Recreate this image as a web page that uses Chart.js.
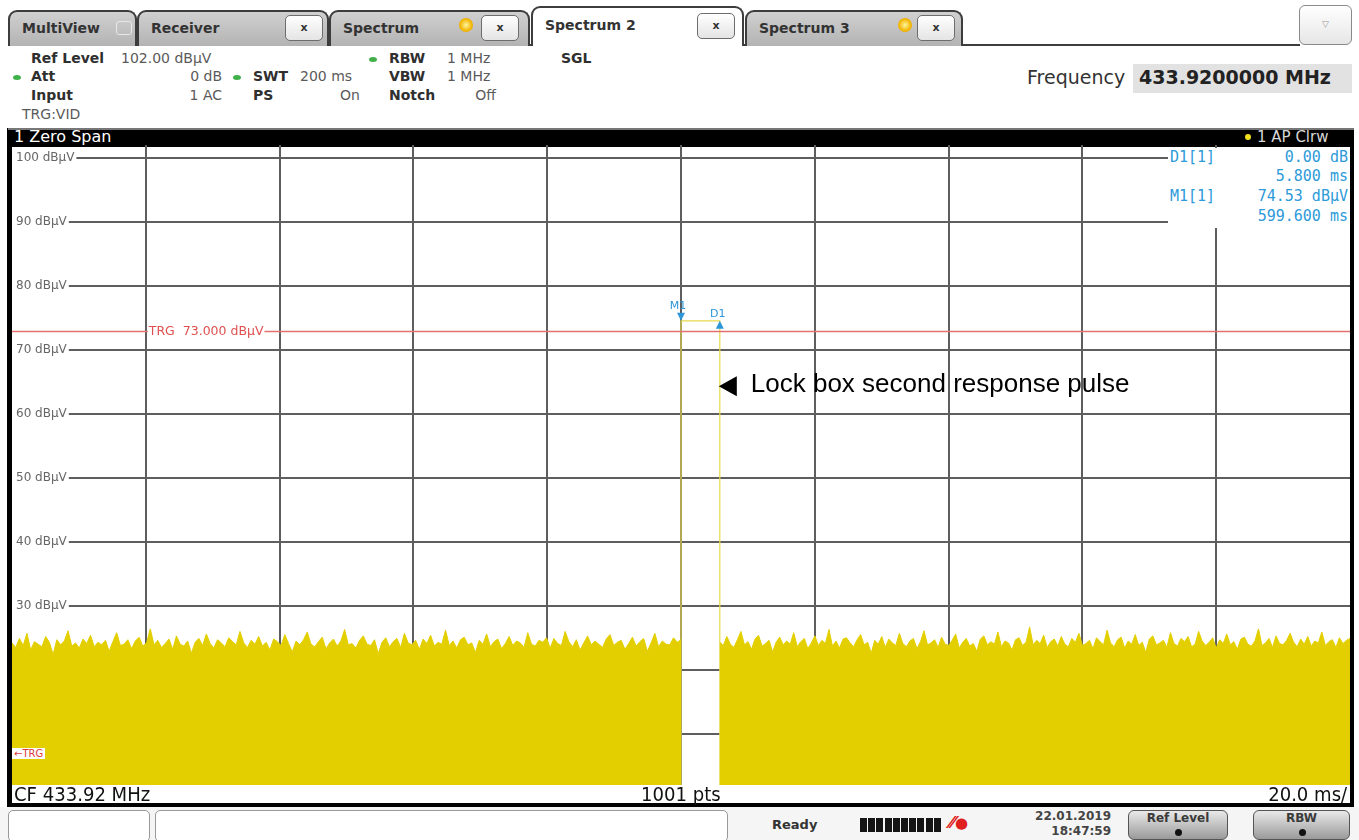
<!DOCTYPE html>
<html>
<head>
<meta charset="utf-8">
<script src="https://cdn.jsdelivr.net/npm/chart.js@4.4.0/dist/chart.umd.min.js"></script>
<style>
  body { margin: 0; width: 1359px; height: 840px; background: #fff; position: relative; overflow: hidden;
         font-family: "DejaVu Sans", Verdana, sans-serif; }
  .a { position: absolute; white-space: nowrap; }
  .tab { position: absolute; top: 10px; height: 36px; border: 2px solid #3d3d3d; border-bottom: none;
         border-radius: 9px 9px 0 0; background: linear-gradient(#d0d0d0, #b3b3b3); box-sizing: border-box; }
  .tab.on { top: 6px; height: 40px; background: #fff; }
  .tab .t { position: absolute; left: 12px; top: 8px; font-weight: bold; font-size: 14px; color: #333; }
  .tab.on .t { top: 9px; }
  .xb { position: absolute; top: 3px; width: 38px; height: 26px; border: 1px solid #6d6d6d; border-radius: 5px;
        background: linear-gradient(#fff, #e4e4e4); font-size: 11px; font-weight: bold; text-align: center;
        line-height: 24px; color: #333; box-sizing: border-box; }
  .star { position: absolute; top: 6px; width: 14px; height: 14px; border-radius: 50%;
          background: radial-gradient(#fff6a0, #f2b500 60%, #e0a000); }
  .lbl { font-weight: bold; font-size: 14px; color: #2f2f2f; }
  .val { font-size: 14px; color: #5a5a5a; }
  .dot { position: absolute; width: 8px; height: 5px; border-radius: 50%; background: #3fb04a; }
  .mk { position: absolute; font-family: "DejaVu Sans Mono", "Liberation Mono", monospace; font-size: 15px; color: #2d9ad9; }
  .ft { position: absolute; top: 783px; font-size: 19px; color: #111; transform: scaleX(0.95); white-space: nowrap; }
  .btn { position: absolute; top: 810px; height: 30px; border: 1px solid #555; border-radius: 6px;
         background: linear-gradient(#e9e9e9, #9a9a9a); box-sizing: border-box; text-align: center;
         font-weight: bold; font-size: 12px; color: #3a3a3a; }
  .btn i { position: absolute; left: 50%; top: 18px; width: 7px; height: 7px; margin-left: -3px; border-radius: 50%; background: #111; }
</style>
</head>
<body>
<!-- tab row -->
<div class="a" style="left:8px;top:44px;width:1292px;height:2px;background:#3d3d3d"></div>
<div class="tab" style="left:8px;width:129px"><span class="t">MultiView</span>
  <span class="a" style="left:106px;top:9px;width:14px;height:12px;border:1px solid #e8e8e8;border-radius:3px;"></span></div>
<div class="tab" style="left:137px;width:192px"><span class="t">Receiver</span><div class="xb" style="left:146px">x</div></div>
<div class="tab" style="left:329px;width:201px"><span class="t">Spectrum</span><div class="star" style="left:128px"></div><div class="xb" style="left:150px">x</div></div>
<div class="tab on" style="left:531px;width:213px"><span class="t">Spectrum 2</span><div class="xb" style="left:164px;top:5px">x</div></div>
<div class="tab" style="left:745px;width:218px"><span class="t">Spectrum 3</span><div class="star" style="left:151px"></div><div class="xb" style="left:170px">x</div></div>
<div class="a" style="left:1299px;top:5px;width:53px;height:40px;border:1px solid #8a8a8a;border-radius:6px;background:linear-gradient(#fff,#e6e6e6);box-sizing:border-box;text-align:center;line-height:36px;font-size:9px;color:#999">&#9661;</div>

<!-- settings panel -->
<div class="a lbl" style="left:31px;top:50px">Ref Level</div>
<div class="a val" style="left:121px;top:50px">102.00 dB&micro;V</div>
<div class="dot" style="left:13px;top:75px"></div>
<div class="a lbl" style="left:31px;top:68px">Att</div>
<div class="a val" style="left:150px;top:68px;width:72px;text-align:right">0 dB</div>
<div class="dot" style="left:233px;top:75px"></div>
<div class="a lbl" style="left:253px;top:68px">SWT</div>
<div class="a val" style="left:300px;top:68px">200 ms</div>
<div class="a lbl" style="left:31px;top:87px">Input</div>
<div class="a val" style="left:150px;top:87px;width:72px;text-align:right">1 AC</div>
<div class="a lbl" style="left:253px;top:87px">PS</div>
<div class="a val" style="left:300px;top:87px;width:60px;text-align:right">On</div>
<div class="a val" style="left:22px;top:106px">TRG:VID</div>
<div class="dot" style="left:369px;top:57px"></div>
<div class="a lbl" style="left:389px;top:50px">RBW</div>
<div class="a val" style="left:447px;top:50px">1 MHz</div>
<div class="a lbl" style="left:389px;top:68px">VBW</div>
<div class="a val" style="left:447px;top:68px">1 MHz</div>
<div class="a lbl" style="left:389px;top:87px">Notch</div>
<div class="a val" style="left:436px;top:87px;width:60px;text-align:right">Off</div>
<div class="a lbl" style="left:561px;top:50px">SGL</div>
<div class="a" style="left:1027px;top:66px;font-size:19px;color:#333">Frequency</div>
<div class="a" style="left:1133px;top:64px;width:219px;height:29px;background:#e2e2e2"></div>
<div class="a" style="left:1139px;top:66px;font-size:19px;font-weight:bold;color:#222">433.9200000 MHz</div>

<!-- diagram frame -->
<div class="a" style="left:7px;top:128px;width:1347px;height:679px;background:#000"></div>
<div class="a" style="left:8px;top:128px;width:1346px;height:2px;background:#777"></div>
<div class="a" style="left:14px;top:127px;font-size:16px;color:#fff">1 Zero Span</div>
<div class="a" style="left:1245px;top:134px;width:6px;height:6px;border-radius:50%;background:#f0e020"></div>
<div class="a" style="left:1257px;top:128px;font-size:15px;color:#d6d6d6">1 AP Clrw</div>
<div class="a" style="left:12px;top:147px;width:1338px;height:656px;background:#fff"></div>
<div class="a" id="wrap" style="left:12px;top:145px;width:1338px;height:640px"><canvas id="c"></canvas></div>

<!-- marker table -->
<div class="a" style="left:1168px;top:148px;width:182px;height:80px;background:#fff"></div>
<div class="mk" style="left:1170px;top:148px">D1[1]</div>
<div class="mk" style="left:1240px;top:148px;width:108px;text-align:right">0.00 dB</div>
<div class="mk" style="left:1240px;top:167px;width:108px;text-align:right">5.800 ms</div>
<div class="mk" style="left:1170px;top:187px">M1[1]</div>
<div class="mk" style="left:1230px;top:187px;width:118px;text-align:right">74.53 dB&micro;V</div>
<div class="mk" style="left:1230px;top:207px;width:118px;text-align:right">599.600 ms</div>

<div class="a" style="left:12px;top:748px;background:#fff;color:#e03a3a;font-size:10px;padding:0 2px">&#8592;TRG</div>

<!-- footer of diagram -->
<div class="ft" style="left:14px;transform-origin:left">CF 433.92 MHz</div>
<div class="ft" style="left:641px;transform-origin:left">1001 pts</div>
<div class="ft" style="right:12px;transform-origin:right">20.0 ms/</div>

<!-- status bar -->
<div class="a" style="left:0;top:807px;width:1359px;height:33px;background:#f5f5f5"></div>
<div class="a" style="left:8px;top:810px;width:142px;height:32px;border:1px solid #999;border-radius:5px;background:#fff;box-sizing:border-box"></div>
<div class="a" style="left:155px;top:810px;width:573px;height:32px;border:1px solid #999;border-radius:5px;background:#fff;box-sizing:border-box"></div>
<div class="a" style="left:772px;top:817px;font-size:13px;font-weight:bold;color:#333">Ready</div>
<div class="a" id="bars" style="left:860px;top:818px;height:14px"></div>
<div class="a" style="left:950px;top:814px;font-size:15px;font-weight:bold;color:#e02020;font-style:italic">&#8260;&#8260;&#9679;</div>
<div class="a" style="left:1027px;top:809px;font-size:12px;font-weight:bold;color:#444;text-align:right;width:84px;line-height:15px">22.01.2019<br>18:47:59</div>
<div class="btn" style="left:1128px;width:100px">Ref Level<i></i></div>
<div class="btn" style="left:1253px;width:97px">RBW<i></i></div>

<script>
// sweep / display settings
const sweepTimeMs = 200;
const divisionMs = 20;
const yMinDb = 2;
const yMaxDb = 102;
const yTickDb = [10, 20, 30, 40, 50, 60, 70, 80, 90, 100];
const trgLevelDb = 73;

// lock box response pulse (M1 / D1)
const pulseStartMs = 100;
const pulseEndMs = 105.8;
const pulseLevelDb = 74.53;

// noise floor before the pulse (0 .. 100 ms)
const noiseLeftDb = [
  24.2, 23.5, 24.9, 23.8, 25.7, 23.1, 24.4, 24.0, 23.6, 25.2, 24.3, 22.4, 24.7, 23.9, 24.5, 26.1, 23.7, 24.2, 23.4, 24.8,
  24.1, 25.4, 23.6, 24.3, 23.9, 24.6, 22.9, 24.4, 25.8, 23.8, 24.0, 24.7, 23.3, 24.5, 25.1, 23.7, 24.2, 26.4, 23.9, 24.6,
  23.5, 24.1, 24.8, 23.2, 25.3, 24.0, 23.7, 24.5, 22.6, 24.3, 24.9, 23.8, 25.6, 24.1, 23.4, 24.7, 24.2, 23.6, 25.0, 24.4,
  23.9, 26.0, 24.2, 23.5, 24.6, 24.0, 25.2, 23.7, 24.3, 23.1, 24.8, 24.4, 23.8, 25.5, 24.1, 22.8, 24.5, 23.9, 24.7, 25.9,
  24.0, 23.6, 24.4, 25.1, 23.3, 24.2, 24.8, 23.7, 24.5, 26.3, 23.9, 24.1, 23.4, 24.6, 25.3, 24.0, 23.8, 24.7, 22.5, 24.3,
  25.0, 23.6, 24.4, 24.9, 23.5, 25.7, 24.2, 23.9, 24.6, 23.2, 24.8, 24.1, 25.4, 23.7, 24.3, 24.0, 26.2, 23.8, 24.5, 23.4,
  24.7, 25.1, 23.9, 24.2, 22.7, 24.6, 24.0, 25.6, 23.6, 24.4, 24.8, 23.3, 24.1, 25.2, 23.8, 24.5, 24.2, 23.5, 25.8, 24.0,
  23.7, 24.6, 24.3, 25.0, 23.4, 24.9, 24.1, 23.8, 26.0, 24.4, 23.6, 24.7, 23.1, 24.2, 25.3, 23.9, 24.5, 24.0, 23.5, 24.8,
  25.5, 23.8, 24.3, 24.6, 23.2, 24.1, 25.1, 23.7, 24.4, 24.9, 22.9, 24.2, 25.7, 23.6, 24.5, 24.0, 23.9, 25.0, 24.3, 24.7
];

// noise floor after the pulse (105.8 .. 200 ms)
const noiseRightDb = [
  24.3, 23.8, 25.2, 24.0, 23.5, 24.7, 26.0, 23.9, 24.4, 23.2, 24.8, 25.4, 23.7, 24.1, 24.6, 22.8, 24.3, 25.1, 23.9, 24.5,
  24.0, 25.8, 23.6, 24.4, 24.9, 23.3, 24.2, 25.3, 23.8, 24.6, 24.1, 26.3, 23.7, 24.5, 23.4, 24.8, 25.0, 24.2, 23.6, 24.7,
  25.5, 23.9, 24.3, 22.6, 24.6, 24.0, 25.2, 23.5, 24.8, 24.2, 23.8, 25.7, 24.1, 23.6, 24.5, 24.9, 23.3, 24.4, 26.1, 23.9,
  24.2, 24.7, 23.5, 25.1, 24.0, 23.8, 24.6, 25.6, 23.4, 24.3, 24.9, 23.7, 24.1, 22.9, 24.8, 25.3, 23.9, 24.4, 24.0, 25.9,
  23.6, 24.5, 24.2, 23.1, 24.7, 25.0, 23.8, 24.3, 26.7, 23.9, 24.6, 24.1, 25.4, 23.5, 24.4, 24.8, 23.7, 25.2, 24.0, 23.6,
  24.9, 24.3, 25.7, 23.8, 24.1, 24.6, 23.3, 25.0, 24.4, 23.9, 26.2, 24.2, 23.6, 24.7, 25.1, 23.4, 24.5, 24.0, 25.5, 23.8,
  24.3, 22.7, 24.8, 25.3, 23.9, 24.2, 24.6, 23.5, 25.8, 24.1, 23.7, 24.9, 24.4, 25.2, 23.6, 24.0, 26.0, 24.5, 23.8, 24.3,
  25.0, 23.4, 24.7, 24.1, 25.6, 23.9, 24.4, 23.2, 24.8, 25.1, 24.0, 23.7, 24.5, 26.4, 23.8, 24.2, 24.9, 23.5, 25.3, 24.1,
  23.9, 24.6, 25.7, 24.3, 23.6, 24.8, 24.0, 25.2, 23.7, 24.5, 24.2, 25.9, 23.8, 24.4, 24.7, 23.5, 25.0, 24.1, 24.6, 24.9
];

const traceYellow = '#e3cf00';
const gridGray = '#5e5e5e';
const markerBlue = '#2d96d8';
const trgRed = '#e46f6f';

// level indicator blocks in the status bar
const bars = document.getElementById('bars');
for (let i = 0; i < 10; i++) {
  const b = document.createElement('span');
  b.style.cssText = 'position:absolute;top:0;width:7px;height:14px;background:#151515;left:' + (i * 8.2) + 'px';
  bars.appendChild(b);
}

const leftPts = noiseLeftDb.map((v, i) => ({ x: i * pulseStartMs / (noiseLeftDb.length - 1), y: v }));
const rightPts = noiseRightDb.map((v, i) => ({
  x: pulseEndMs + i * (sweepTimeMs - pulseEndMs) / (noiseRightDb.length - 1), y: v
}));
const noisePts = leftPts.concat([{ x: (pulseStartMs + pulseEndMs) / 2, y: null }], rightPts);

const pulsePts = [
  { x: pulseStartMs, y: yMinDb },
  { x: pulseStartMs, y: pulseLevelDb },
  { x: pulseEndMs, y: pulseLevelDb },
  { x: pulseEndMs, y: yMinDb }
];

// keep the plot area filling the whole canvas (labels sit inside the grid)
const flatAxis = (s) => {
  if (s.isHorizontal()) { s.height = 0; } else { s.width = 0; }
  s.paddingTop = 0; s.paddingBottom = 0; s.paddingLeft = 0; s.paddingRight = 0;
};

const overlay = {
  id: 'overlay',
  afterDatasetsDraw(chart) {
    const { ctx, chartArea: a, scales: { x, y } } = chart;
    ctx.save();

    // trigger level line + label
    const ty = Math.round(y.getPixelForValue(trgLevelDb)) + 0.5;
    ctx.strokeStyle = trgRed;
    ctx.lineWidth = 1.5;
    ctx.beginPath();
    ctx.moveTo(a.left, ty);
    ctx.lineTo(a.right, ty);
    ctx.stroke();
    ctx.font = '12.5px "DejaVu Sans", sans-serif';
    const trgTxt = 'TRG  73.000 dB\u00b5V';
    const tx = x.getPixelForValue(divisionMs) + 3;
    const tw = ctx.measureText(trgTxt).width;
    ctx.fillStyle = '#fff';
    ctx.fillRect(tx - 1, ty - 6, tw + 2, 12);
    ctx.fillStyle = '#e05050';
    ctx.textBaseline = 'middle';
    ctx.fillText(trgTxt, tx, ty);

    // markers
    const my = y.getPixelForValue(pulseLevelDb);
    const m1x = x.getPixelForValue(pulseStartMs);
    const d1x = x.getPixelForValue(pulseEndMs);
    ctx.fillStyle = markerBlue;
    ctx.beginPath();
    ctx.moveTo(m1x - 4, my - 8);
    ctx.lineTo(m1x + 4, my - 8);
    ctx.lineTo(m1x, my);
    ctx.fill();
    ctx.beginPath();
    ctx.moveTo(d1x - 4, my + 8);
    ctx.lineTo(d1x + 4, my + 8);
    ctx.lineTo(d1x, my);
    ctx.fill();
    ctx.font = '11px "DejaVu Sans", sans-serif';
    ctx.textAlign = 'center';
    ctx.textBaseline = 'alphabetic';
    ctx.fillText('M1', m1x - 3, my - 12);
    ctx.fillText('D1', d1x - 2, my - 4);

    // annotation
    const ay = y.getPixelForValue(64.3);
    ctx.fillStyle = '#000';
    ctx.beginPath();
    ctx.moveTo(d1x - 1, ay);
    ctx.lineTo(d1x + 17, ay - 10);
    ctx.lineTo(d1x + 17, ay + 10);
    ctx.fill();
    ctx.font = '26px "Liberation Sans", Arial, sans-serif';
    ctx.textAlign = 'left';
    ctx.textBaseline = 'middle';
    ctx.fillText('Lock box second response pulse', d1x + 31, ay - 1);
    ctx.restore();
  }
};

new Chart(document.getElementById('c'), {
  type: 'line',
  data: {
    datasets: [
      {
        label: 'Noise',
        data: noisePts,
        borderColor: traceYellow,
        backgroundColor: traceYellow,
        borderWidth: 1,
        pointRadius: 0,
        tension: 0,
        spanGaps: false,
        fill: 'start'
      },
      {
        label: 'Pulse',
        data: pulsePts,
        borderColor: '#e8d94c',
        borderWidth: 1.2,
        pointRadius: 0,
        tension: 0,
        fill: false
      }
    ]
  },
  options: {
    responsive: true,
    maintainAspectRatio: false,
    animation: false,
    events: [],
    layout: { padding: 0 },
    plugins: { legend: { display: false }, tooltip: { enabled: false } },
    scales: {
      x: {
        type: 'linear',
        min: 0,
        max: sweepTimeMs,
        afterFit: flatAxis,
        ticks: { display: false, stepSize: divisionMs },
        border: { display: false },
        grid: {
          drawTicks: false,
          lineWidth: 2,
          color: (c) => (c.tick && (c.tick.value === 0 || c.tick.value === sweepTimeMs)) ? 'rgba(0,0,0,0)' : gridGray
        }
      },
      y: {
        min: yMinDb,
        max: yMaxDb,
        afterBuildTicks: (s) => { s.ticks = yTickDb.map(v => ({ value: v })); },
        afterFit: flatAxis,
        border: { display: false },
        grid: { drawTicks: false, lineWidth: 2, color: gridGray },
        ticks: {
          mirror: true,
          padding: 4,
          color: '#666',
          font: { family: 'DejaVu Sans', size: 12 },
          showLabelBackdrop: true,
          backdropColor: '#fff',
          backdropPadding: { left: 4, right: 2, top: 0, bottom: 0 },
          callback: (v) => v + ' dB\u00b5V'
        }
      }
    }
  },
  plugins: [overlay]
});
</script>
</body>
</html>
